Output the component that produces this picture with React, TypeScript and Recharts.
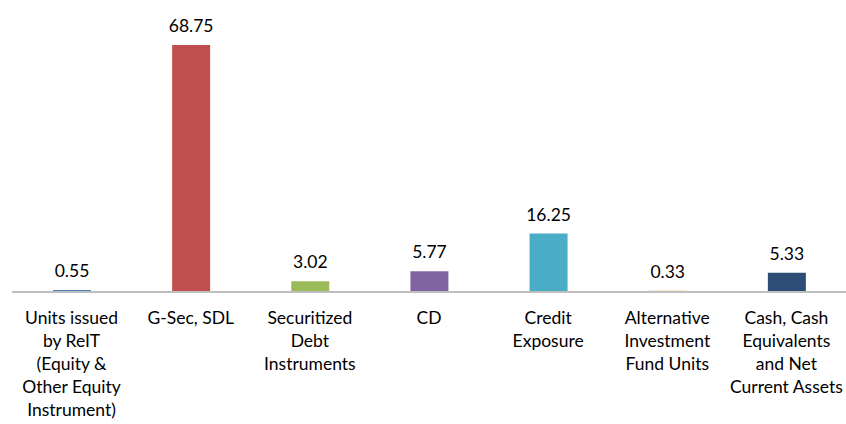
import {Bar, BarChart, Cell, LabelList, XAxis, YAxis} from "recharts";

const categories = [
    "Units issued by ReIT (Equity & Other Equity Instrument)",
    "G-Sec, SDL",
    "Securitized Debt Instruments",
    "CD",
    "Credit Exposure",
    "Alternative Investment Fund Units",
    "Cash, Cash Equivalents and Net Current Assets",
]
const categoryLines = [
    ["Units issued", "by ReIT", "(Equity &", "Other Equity", "Instrument)"],
    ["G-Sec, SDL"],
    ["Securitized", "Debt", "Instruments"],
    ["CD"],
    ["Credit", "Exposure"],
    ["Alternative", "Investment", "Fund Units"],
    ["Cash, Cash", "Equivalents", "and Net", "Current Assets"],
]
const values = [0.55, 68.75, 3.02, 5.77, 16.25, 0.33, 5.33]
const colors = ["#4F81BD", "#C0504D", "#9BBB59", "#8064A2", "#4BACC6", "#F79646", "#2C4D75"]

const data = categories.map((c, i) => ({name: c, value: values[i]}))

const font = "Lato, 'Open Sans', sans-serif"

function CategoryTick(props: any) {
    const {x, y, payload} = props
    const lines = categoryLines[payload.index] ?? [payload.value]
    return (
        <text x={x} y={y} textAnchor="middle" fill="#000" fontSize={17.5} fontFamily={font}>
            {lines.map((l, i) => (
                <tspan key={i} x={x} dy={i === 0 ? 24 : 23}>{l}</tspan>
            ))}
        </text>
    )
}

export default function App() {
    return (
        <div style={{position: "absolute", left: 0, top: 0, background: "#fff"}}>
            <BarChart width={846} height={424} data={data} margin={{top: 45, right: 0, left: 12, bottom: 0}}>
                <XAxis dataKey="name" interval={0} tickLine={false} height={132}
                       axisLine={{stroke: "#bfbfbf", strokeWidth: 2}} tick={<CategoryTick/>}/>
                <YAxis hide domain={[0, 68.75]}/>
                <Bar dataKey="value" barSize={38} isAnimationActive={false}>
                    {data.map((_, i) => <Cell key={i} fill={colors[i]}/>)}
                    <LabelList dataKey="value" position="top" offset={13} fill="#000" fontSize={17.5}
                               fontFamily={font} formatter={(v: any) => Number(v).toFixed(2)}/>
                </Bar>
            </BarChart>
        </div>
    );
}
